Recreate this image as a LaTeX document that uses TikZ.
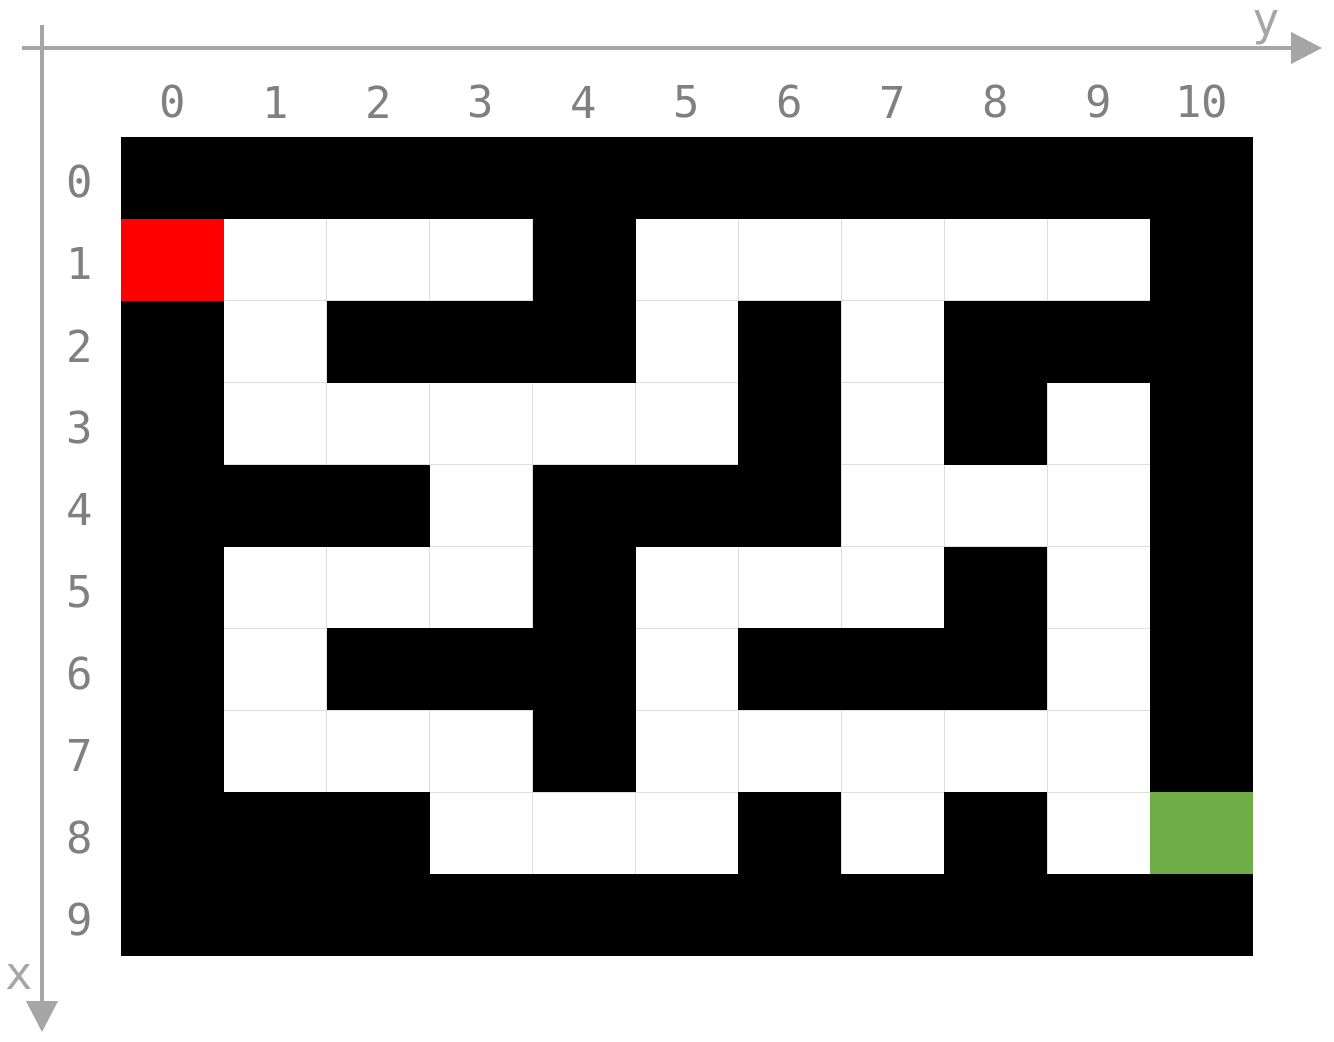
\documentclass[tikz,border=0pt]{standalone}
\usepackage{fontspec}
\usepackage{tikz}
\usetikzlibrary{arrows.meta}
\newfontfamily\labelfont{DejaVu Sans Mono}
\definecolor{axisgray}{RGB}{166,166,166}
\definecolor{labelgray}{RGB}{128,128,128}
\definecolor{gridgray}{RGB}{222,222,222}
\definecolor{startred}{RGB}{255,0,0}
\definecolor{goalgreen}{RGB}{112,173,71}
\tikzset{
    axis/.style={draw=axisgray, line width=2.3pt, -{Triangle[length=0.62cm, width=0.62cm]}},
    idx/.style={font=\labelfont\fontsize{25}{25}\selectfont, text=labelgray, inner sep=0pt},
    axislabel/.style={font=\labelfont\fontsize{26}{26}\selectfont, text=axisgray, inner sep=0pt, anchor=base},
    wall/.style={fill=black},
    gridline/.style={draw=gridgray, line width=0.5pt}
}
\def\cw{102.909}
\def\ch{81.9}
\begin{document}
\begin{tikzpicture}[x=0.02cm,y=-0.02cm]
\useasboundingbox (0,0) rectangle (1334,1041);
% free cells and grid
\fill[white] (121,137) rectangle (1253,956);
\foreach \c in {1,...,10}
    \draw[gridline] ({121+\c*\cw},137) -- ({121+\c*\cw},956);
\foreach \r in {1,...,9}
    \draw[gridline] (121,{137+\r*\ch}) -- (1253,{137+\r*\ch});
% walls, row by row
\foreach \r/\cols in {0/{0,1,2,3,4,5,6,7,8,9,10}, 1/{4,10}, 2/{0,2,3,4,6,8,9,10},
    3/{0,6,8,10}, 4/{0,1,2,4,5,6,10}, 5/{0,4,8,10}, 6/{0,2,3,4,6,7,8,10},
    7/{0,4,10}, 8/{0,1,2,6,8}, 9/{0,1,2,3,4,5,6,7,8,9,10}}
    \foreach \c in \cols
        \fill[wall] ({121+\c*\cw},{137+\r*\ch}) rectangle ({121+(\c+1)*\cw},{137+(\r+1)*\ch});
% start and goal
\fill[startred] (121,{137+\ch}) rectangle ({121+\cw},{137+2*\ch});
\fill[goalgreen] ({121+10*\cw},{137+8*\ch}) rectangle (1253,{137+9*\ch});
% index labels
\foreach \c in {0,...,10}
    \node[idx] (col\c) at ({121+(\c+0.5)*\cw},102) {\c};
\foreach \r in {0,...,9}
    \node[idx] (row\r) at (80,{137+(\r+0.5)*\ch+4}) {\r};
% axes
\coordinate (ystart) at (22,48);
\coordinate (yend) at (1322,48);
\coordinate (xstart) at (42,25);
\coordinate (xend) at (42,1032);
\draw[axis] (ystart) -- (yend);
\draw[axis] (xstart) -- (xend);
\node[axislabel] (ylabel) at (1266,35) {y};
\node[axislabel] (xlabel) at (19,989) {x};
\end{tikzpicture}
\end{document}
